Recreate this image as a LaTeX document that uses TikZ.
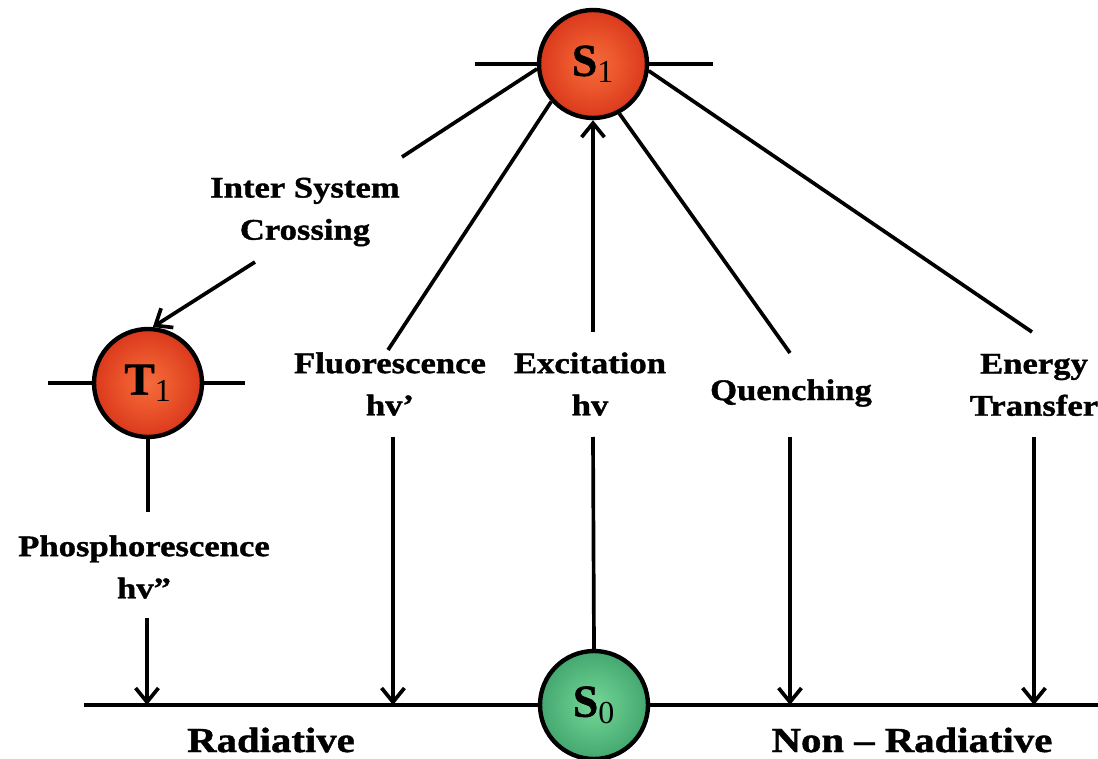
\documentclass[tikz,border=0pt]{standalone}
\usepackage{fontspec}
\setmainfont{Liberation Serif}[FakeStretch=1.16, BoldFeatures={FakeBold=1.2}]
\newfontfamily\statefont{Liberation Serif}[BoldFeatures={FakeBold=1.2}]
\usepackage{tikz}
\usetikzlibrary{arrows.meta}

\pgfdeclareradialshading{redstate}{\pgfpoint{0bp}{0bp}}{rgb(0bp)=(0.95,0.42,0.24); rgb(10bp)=(0.93,0.35,0.18); rgb(36bp)=(0.80,0.13,0.06); rgb(50bp)=(0.55,0.04,0.02)}
\pgfdeclareradialshading{greenstate}{\pgfpoint{0bp}{0bp}}{rgb(0bp)=(0.46,0.84,0.60); rgb(10bp)=(0.38,0.77,0.53); rgb(36bp)=(0.18,0.57,0.37); rgb(50bp)=(0.08,0.38,0.22)}

\begin{document}
\begin{tikzpicture}[x=0.02cm, y=-0.02cm, line width=2.1pt,
    state/.style={circle, draw=black, line width=2.5pt, minimum size=2.16cm, inner sep=0pt,
      font=\statefont\fontsize{26}{28}\selectfont\bfseries},
    lbl/.style={align=center, inner sep=0pt, font=\fontsize{17}{24}\selectfont\bfseries},
    side/.style={inner sep=0pt, font=\fontsize{20}{24}\selectfont\bfseries},
    level/.style={line width=2.6pt},
    arr/.style={-{Straight Barb[length=8pt,width=13pt]}}]
  \useasboundingbox (0,0) rectangle (1098,759);
  \draw[level] (84,705) -- (1098,705);
  \draw[level] (475,64) -- (713,64);
  \draw[level] (48,383) -- (245,383);
  \node[state, shading=redstate] (S1) at (593,64) {S\textsubscript{\mdseries 1}};
  \node[state, shading=redstate] (T1) at (148,383) {T\textsubscript{\mdseries 1}};
  \node[state, shading=greenstate] (S0) at (594,705) {S\textsubscript{\mdseries 0}};
  \node[lbl] (isc) at (305,212) {Inter System\\Crossing};
  \node[lbl] (fluo) at (390,384) {Fluorescence\\hv’};
  \node[lbl] (exc) at (590,384) {Excitation\\hv};
  \node[lbl] (quen) at (791,393) {Quenching};
  \node[lbl] (energy) at (1034,385) {Energy\\Transfer};
  \node[lbl] (phos) at (144,567) {Phosphorescence\\hv”};
  \node[side, anchor=base] (rad) at (271,752) {Radiative};
  \node[side, anchor=base] (nonrad) at (912,752) {Non -- Radiative};
  \coordinate (iscIn) at (402,157);
  \coordinate (iscOut) at (255,262);
  \coordinate (fluoIn) at (388,350);
  \coordinate (fluoOut) at (393,437);
  \coordinate (fluoEnd) at (393,705);
  \coordinate (excIn) at (593,332);
  \coordinate (excOut) at (593,437);
  \coordinate (quenIn) at (790,353);
  \coordinate (quenOut) at (790,437);
  \coordinate (quenEnd) at (790,705);
  \coordinate (energyIn) at (1032,332);
  \coordinate (energyOut) at (1034,437);
  \coordinate (energyEnd) at (1034,705);
  \coordinate (phosIn) at (148,512);
  \coordinate (phosOut) at (147,618);
  \coordinate (phosEnd) at (147,705);
  \draw (S1.185) -- (iscIn);
  \draw[arr] (iscOut) -- (T1.85);
  \draw (S1.222) -- (fluoIn);
  \draw[arr] (fluoOut) -- (fluoEnd);
  \draw (S0.north) -- (excOut);
  \draw[arr] (excIn) -- (S1.south);
  \draw (S1.298) -- (quenIn);
  \draw[arr] (quenOut) -- (quenEnd);
  \draw (S1.353) -- (energyIn);
  \draw[arr] (energyOut) -- (energyEnd);
  \draw (T1.south) -- (phosIn);
  \draw[arr] (phosOut) -- (phosEnd);
\end{tikzpicture}
\end{document}
